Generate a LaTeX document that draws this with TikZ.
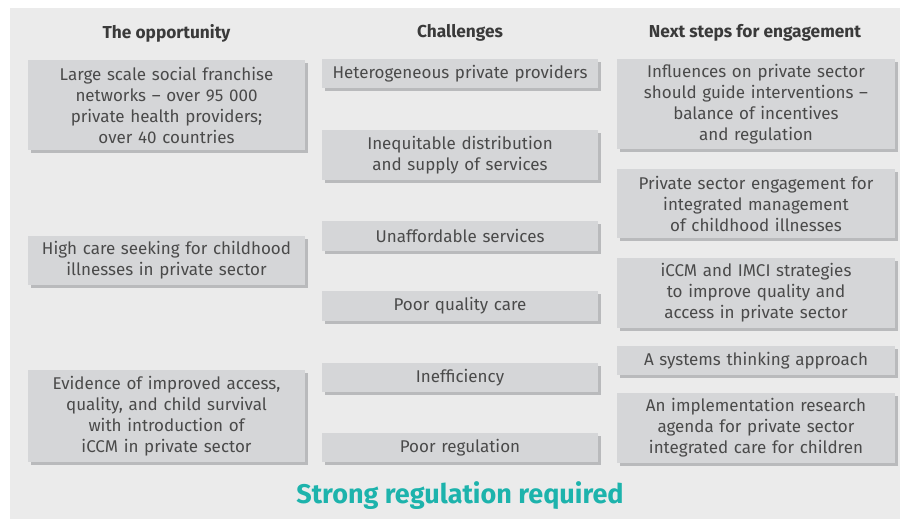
\documentclass[tikz,border=0pt]{standalone}
\usepackage{fontspec}
\setmainfont{Fira Sans}
\usetikzlibrary{shadows}
\definecolor{bg}{HTML}{EBEBEB}
\definecolor{boxfill}{HTML}{D5D6D8}
\definecolor{boxshadow}{HTML}{B9BABC}
\definecolor{txt}{HTML}{4A4A4A}
\definecolor{hdr}{HTML}{3A3A3A}
\definecolor{teal}{HTML}{1DB3AC}
\tikzset{
  card/.style={fill=boxfill, inner sep=0pt, align=center, text=txt,
    font=\fontsize{17}{21}\selectfont,
    drop shadow={shadow xshift=3pt, shadow yshift=-3pt, fill=boxshadow, opacity=1}},
  lcard/.style={card, minimum width=277pt, text width=277pt},
  mcard/.style={card, minimum width=276pt, text width=276pt},
  rcard/.style={card, minimum width=278pt, text width=278pt},
  header/.style={font=\bfseries\fontsize{17.3}{20}\selectfont, text=hdr, inner sep=0pt},
}
\begin{document}
\begin{tikzpicture}[x=1pt,y=-1pt]
\useasboundingbox (0,0) rectangle (900,519);
\fill[white] (0,0) rectangle (900,519);
\fill[bg] (10,8) rectangle (900,519);

\node[header] (h1) at (166.5,33) {The opportunity};
\node[header] (h2) at (460,33) {Challenges};
\node[header] (h3) at (755,33) {Next steps for engagement};

\node[lcard, minimum height=90pt] (l1) at (166.5,105) {Large scale social franchise\\networks -- over 95 000\\private health providers;\\over 40 countries};
\node[lcard, minimum height=49pt] (l2) at (166.5,260.5) {High care seeking for childhood\\illnesses in private sector};
\node[lcard, minimum height=92pt] (l3) at (166.5,416) {Evidence of improved access,\\quality, and child survival\\with introduction of\\iCCM in private sector};

\node[mcard, minimum height=29pt] (m1) at (460,73.5) {Heterogeneous private providers};
\node[mcard, minimum height=50pt] (m2) at (460,155) {Inequitable distribution\\and supply of services};
\node[mcard, minimum height=30pt] (m3) at (460,236) {Unaffordable services};
\node[mcard, minimum height=30pt] (m4) at (460,306) {Poor quality care};
\node[mcard, minimum height=29pt] (m5) at (460,377.5) {Inefficiency};
\node[mcard, minimum height=29pt] (m6) at (460,447.5) {Poor regulation};

\node[rcard, minimum height=90pt] (r1) at (756,104) {Influences on private sector\\should guide interventions --\\balance of incentives\\and regulation};
\node[rcard, minimum height=69pt] (r2) at (756,203.5) {Private sector engagement for\\integrated management\\of childhood illnesses};
\node[rcard, minimum height=70pt] (r3) at (756,293) {iCCM and IMCI strategies\\to improve quality and\\access in private sector};
\node[rcard, minimum height=29pt] (r4) at (756,360.5) {A systems thinking approach};
\node[rcard, minimum height=70pt] (r5) at (756,428) {An implementation research\\agenda for private sector\\integrated care for children};

\node[font=\bfseries\fontsize{27}{30}\selectfont, text=teal, inner sep=0pt] (foot) at (460,495.5) {Strong regulation required};
\end{tikzpicture}
\end{document}
